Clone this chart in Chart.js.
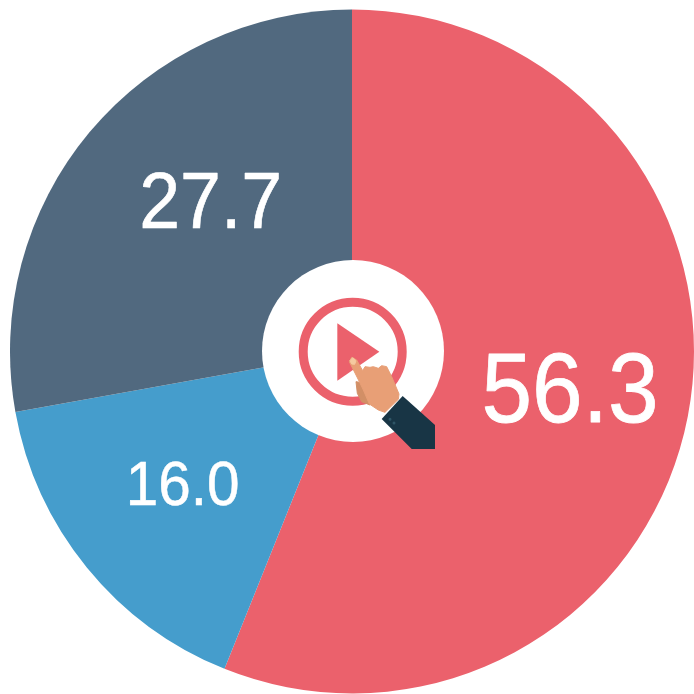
<!DOCTYPE html>
<html><head><meta charset="utf-8">
<style>html,body{margin:0;padding:0;background:#fff;overflow:hidden}#w{position:absolute;left:0;top:0;width:694px;height:694px}</style>
<script src="https://cdn.jsdelivr.net/npm/chart.js@4/dist/chart.umd.min.js"></script>
</head><body><div id="w"><canvas id="c"></canvas></div>
<script>
const categories = ["A", "B", "C"];
const values = [56.08, 16.09, 27.83];
const valueLabels = ["56.3", "16.0", "27.7"];
const colours = ["#EB616C", "#459DCC", "#51697F"];
const labelFontSizes = [91, 58.5, 73.5];
const labelRadiusFactors = [0.6476, 0.6295, 0.5997];
const labelAngleShiftDeg = [-0.85, 1.05, 6.54];
const labelStretchY = 1.09;

function poly(ctx, pts, fill, rounded){
  ctx.beginPath();
  pts.forEach((p,i)=>{ const x=250+p[0]/3, y=250+p[1]/3; i?ctx.lineTo(x,y):ctx.moveTo(x,y); });
  ctx.closePath(); ctx.fillStyle=fill; ctx.fill();
  if(rounded){ ctx.lineJoin="round"; ctx.lineWidth=1; ctx.strokeStyle=fill; ctx.stroke(); }
}
const overlay = {
  id:"overlay",
  afterDatasetsDraw(chart){
    const ctx = chart.ctx, arcs = chart.getDatasetMeta(0).data;
    ctx.save();
    ctx.textAlign="center"; ctx.textBaseline="alphabetic"; ctx.fillStyle="#fff";
    ctx.strokeStyle="#fff"; ctx.lineJoin="round";
    arcs.forEach((a,i)=>{
      const mid=(a.startAngle+a.endAngle)/2+labelAngleShiftDeg[i]*Math.PI/180, r=a.outerRadius*labelRadiusFactors[i];
      const fs=labelFontSizes[i];
      ctx.save();
      ctx.translate(a.x+Math.cos(mid)*r, a.y+Math.sin(mid)*r+0.32*fs*labelStretchY);
      ctx.scale(1,labelStretchY);
      ctx.font=fs+'px "Liberation Sans", Arial, sans-serif';
      ctx.lineWidth=fs*0.008;
      ctx.fillText(valueLabels[i],0,0);
      ctx.strokeText(valueLabels[i],0,0);
      ctx.restore();
    });
    // centre disc and icon
    ctx.beginPath(); ctx.arc(353,351,91,0,Math.PI*2); ctx.fillStyle="#fff"; ctx.fill();
    ctx.beginPath(); ctx.arc(352.7,351.7,49.5,0,Math.PI*2); ctx.strokeStyle=colours[0]; ctx.lineWidth=9; ctx.stroke();
    poly(ctx,[[262,220],[388,305],[262,392]],colours[0]);
    poly(ctx,[[318,395],[345,400],[360,465],[335,455],[322,430]],"#D28F66",true);
    poly(ctx,[[298,335],[305,322],[320,330],[338,362],[345,350],[360,352],[370,350],[385,355],[395,347],[410,350],[425,380],[447,432],[445,448],[405,487],[385,480],[358,462],[340,420],[328,395]],"#E89F76",true);
    poly(ctx,[[300,332],[308,323],[318,332],[314,343],[305,342]],"#F5C9A0",true);
    poly(ctx,[[458,438],[555,525],[555,597],[485,597],[395,507]],"#183545");
    ctx.fillStyle="#2F5566";
    ctx.beginPath(); ctx.arc(250+420/3,250+508/3,1.5,0,Math.PI*2); ctx.arc(250+432/3,250+519/3,1.5,0,Math.PI*2); ctx.fill();
    ctx.restore();
  }
};
new Chart(document.getElementById("c"),{
  type:"pie",
  data:{labels:categories,datasets:[{data:values,backgroundColor:colours,borderWidth:0}]},
  options:{responsive:true,maintainAspectRatio:false,animation:false,
    layout:{padding:{left:10,right:-1.4,top:9,bottom:0}},
    plugins:{legend:{display:false},tooltip:{enabled:false}}},
  plugins:[overlay]
});
</script></body></html>
